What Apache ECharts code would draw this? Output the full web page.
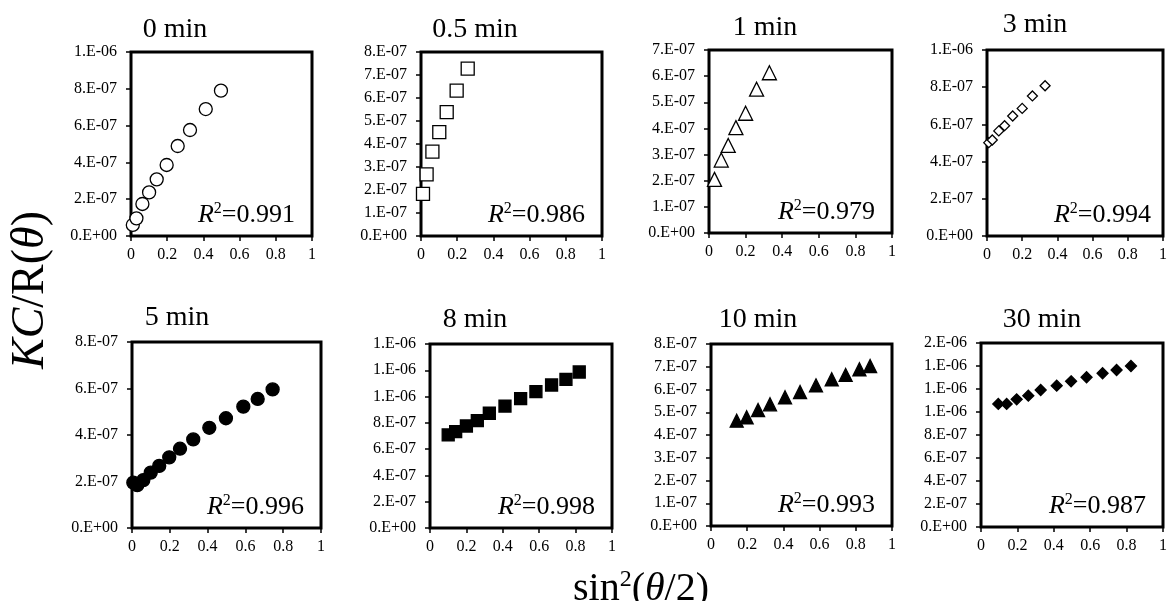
<!DOCTYPE html>
<html>
<head>
<meta charset="utf-8">
<script src="https://cdn.jsdelivr.net/npm/echarts@6/dist/echarts.min.js"></script>
<style>
html,body{margin:0;padding:0;background:#fff;}
#chart{width:1170px;height:601px;}
</style>
</head>
<body>
<div id="chart"></div>
<script>
// ---------- data ----------
const panelTitles = ['0 min','0.5 min','1 min','3 min','5 min','8 min','10 min','30 min'];
const r2Labels = ['0.991','0.986','0.979','0.994','0.996','0.998','0.993','0.987'];
const xTicks = [0, 0.2, 0.4, 0.6, 0.8, 1];

const x0 = [0.01, 0.03, 0.063, 0.1, 0.142, 0.197, 0.258, 0.326, 0.413, 0.497];
const y0 = [6.0e-8, 9.6e-8, 1.74e-7, 2.37e-7, 3.08e-7, 3.86e-7, 4.89e-7, 5.76e-7, 6.90e-7, 7.90e-7];

const x05 = [0.011, 0.031, 0.063, 0.101, 0.142, 0.197, 0.258];
const y05 = [1.83e-7, 2.68e-7, 3.67e-7, 4.52e-7, 5.39e-7, 6.32e-7, 7.28e-7];

const x1 = [0.03, 0.067, 0.105, 0.147, 0.2, 0.26, 0.33];
const y1 = [2.05e-7, 2.79e-7, 3.35e-7, 4.03e-7, 4.58e-7, 5.50e-7, 6.13e-7];

const x3 = [0.01, 0.03, 0.067, 0.1, 0.146, 0.2, 0.258, 0.33];
const y3 = [5.02e-7, 5.16e-7, 5.65e-7, 5.93e-7, 6.45e-7, 6.86e-7, 7.53e-7, 8.08e-7];

const x5 = [0.007, 0.028, 0.06, 0.099, 0.144, 0.197, 0.254, 0.324, 0.409, 0.497, 0.589, 0.665, 0.744];
const y5 = [1.95e-7, 1.84e-7, 2.06e-7, 2.38e-7, 2.67e-7, 3.04e-7, 3.41e-7, 3.81e-7, 4.31e-7, 4.72e-7, 5.22e-7, 5.55e-7, 5.96e-7];

const x8 = [0.1, 0.141, 0.2, 0.26, 0.326, 0.412, 0.498, 0.582, 0.668, 0.747, 0.82];
const y8 = [7.08e-7, 7.33e-7, 7.76e-7, 8.17e-7, 8.73e-7, 9.28e-7, 9.84e-7, 1.037e-6, 1.088e-6, 1.131e-6, 1.187e-6];

const x10 = [0.142, 0.197, 0.26, 0.326, 0.409, 0.492, 0.58, 0.667, 0.744, 0.82, 0.879];
const y10 = [4.63e-7, 4.78e-7, 5.10e-7, 5.35e-7, 5.66e-7, 5.89e-7, 6.18e-7, 6.45e-7, 6.64e-7, 6.89e-7, 7.03e-7];

const x30 = [0.095, 0.141, 0.196, 0.26, 0.328, 0.416, 0.495, 0.58, 0.668, 0.745, 0.824];
const y30 = [1.07e-6, 1.07e-6, 1.11e-6, 1.142e-6, 1.191e-6, 1.229e-6, 1.267e-6, 1.302e-6, 1.337e-6, 1.365e-6, 1.40e-6];

const yMax = [1e-6, 8e-7, 7e-7, 1e-6, 8e-7, 1.4e-6, 8e-7, 1.6e-6];
const yStep = [2e-7, 1e-7, 1e-7, 2e-7, 2e-7, 2e-7, 1e-7, 2e-7];

const xs = [x0, x05, x1, x3, x5, x8, x10, x30];
const ys = [y0, y05, y1, y3, y5, y8, y10, y30];

// ---------- layout & style ----------
const boxes = [
  {l:131, t:52, w:181, h:184},
  {l:421, t:52, w:181, h:184},
  {l:709, t:50, w:183, h:183},
  {l:987, t:50, w:181, h:186},
  {l:132, t:342, w:189, h:186},
  {l:430, t:344, w:182, h:184},
  {l:711, t:344, w:181, h:182},
  {l:981, t:343, w:182, h:184}
];
const titlePos = [[175,30],[475,30],[765,28],[1035,25],[177,318],[475,320],[758,320],[1042,320]];
const symbols = [
  {s:'circle', size:13, fill:'#fff'},
  {s:'rect', size:13, fill:'#fff'},
  {s:'triangle', size:14, fill:'#fff'},
  {s:'diamond', size:10, fill:'#fff'},
  {s:'circle', size:13, fill:'#000'},
  {s:'rect', size:12, fill:'#000'},
  {s:'triangle', size:13, fill:'#000'},
  {s:'diamond', size:11, fill:'#000'}
];
const FONT = '"Liberation Serif", "Times New Roman", serif';

function fmtE(v){
  if (Math.abs(v) < 1e-15) return '0.E+00';
  const s = v.toExponential(0);
  const parts = s.split('e');
  const e = parseInt(parts[1], 10);
  const a = Math.abs(e);
  return parts[0] + '.E' + (e < 0 ? '-' : '+') + (a < 10 ? '0' : '') + a;
}

const grids = [], xAxes = [], yAxes = [], series = [], graphics = [];
for (let i = 0; i < 8; i++) {
  const b = boxes[i];
  grids.push({left:b.l, top:b.t, width:b.w, height:b.h, show:true,
    borderColor:'#000', borderWidth:3, backgroundColor:'transparent', containLabel:false});
  xAxes.push({type:'value', gridIndex:i, min:xTicks[0], max:xTicks[xTicks.length-1], interval:0.2,
    axisLine:{show:false}, splitLine:{show:false},
    axisTick:{show:true, inside:false, length:5, lineStyle:{color:'#000', width:1.5}},
    axisLabel:{show:true, margin:11, color:'#000', fontFamily:FONT, fontSize:16}});
  yAxes.push({type:'value', gridIndex:i, min:0, max:yMax[i], interval:yStep[i],
    axisLine:{show:false}, splitLine:{show:false},
    axisTick:{show:true, inside:false, length:5, lineStyle:{color:'#000', width:1.5}},
    axisLabel:{show:true, margin:14, color:'#000', fontFamily:FONT, fontSize:16, formatter:fmtE}});
  const sym = symbols[i];
  series.push({type:'scatter', xAxisIndex:i, yAxisIndex:i,
    data: xs[i].map((x, k) => [x, ys[i][k]]),
    symbol: sym.s, symbolSize: sym.size,
    itemStyle:{color:sym.fill, borderColor:'#000', borderWidth:1.3, opacity:1},
    emphasis:{disabled:true}, animation:false});
  graphics.push({type:'text', x:titlePos[i][0], y:titlePos[i][1],
    style:{text:panelTitles[i], font:'28px ' + FONT, fill:'#000', align:'center', verticalAlign:'middle'}});
  graphics.push({type:'text', x: b.l + b.w - 17, y: b.t + b.h - 21,
    style:{text:'{i|R}{s|2}{n|=' + r2Labels[i] + '}', align:'right', verticalAlign:'middle',
      rich:{
        i:{fontFamily:FONT, fontStyle:'italic', fontSize:26, fill:'#000', color:'#000'},
        s:{fontFamily:FONT, fontSize:16, fill:'#000', color:'#000', padding:[0,0,12,0]},
        n:{fontFamily:FONT, fontSize:26, fill:'#000', color:'#000'}
      }}});
}

// axis titles
graphics.push({type:'text', x:641, y:589,
  style:{text:'{n|sin}{s|2}{n|(}{i|θ}{n|/2)}', align:'center', verticalAlign:'middle',
    rich:{
      n:{fontFamily:FONT, fontSize:40, fill:'#000', color:'#000'},
      s:{fontFamily:FONT, fontSize:24, fill:'#000', color:'#000', padding:[0,0,18,0]},
      i:{fontFamily:FONT, fontStyle:'italic', fontSize:40, fill:'#000', color:'#000'}
    }}});
graphics.push({type:'text', x:31, y:290, rotation:Math.PI/2,
  style:{text:'{i|KC}{n|/R(}{i|θ}{n|)}', align:'center', verticalAlign:'middle',
    rich:{
      n:{fontFamily:FONT, fontSize:46, fill:'#000', color:'#000'},
      i:{fontFamily:FONT, fontStyle:'italic', fontSize:46, fill:'#000', color:'#000'}
    }}});

const chart = echarts.init(document.getElementById('chart'), null, {renderer:'canvas'});
chart.setOption({
  backgroundColor:'#fff',
  animation:false,
  grid:grids, xAxis:xAxes, yAxis:yAxes, series:series,
  graphic:graphics
});
</script>
</body>
</html>
